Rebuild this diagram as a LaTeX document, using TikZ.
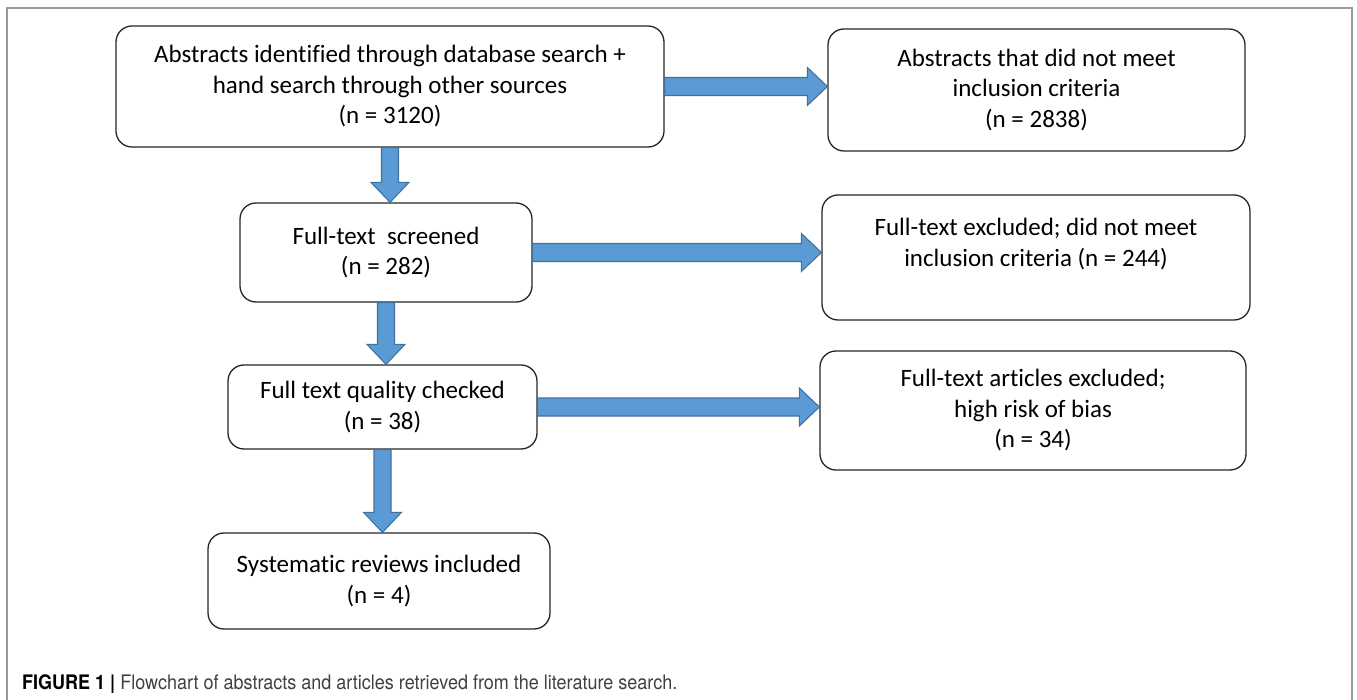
\documentclass[tikz,border=0pt]{standalone}
\usepackage{fontspec}
\setmainfont{Carlito}[Ligatures=NoCommon]
\newfontfamily\capfont{TeX Gyre Heros}[FakeStretch=0.9]
\usetikzlibrary{calc}

\definecolor{arrowblue}{HTML}{5B9BD5}
\definecolor{arrowedge}{HTML}{41719C}
\definecolor{framegray}{HTML}{9A9A9A}
\definecolor{captext}{HTML}{404040}

\tikzset{
  flowbox/.style={draw=black!85, line width=1.3pt, rounded corners=16pt,
    fill=white, align=center, inner sep=0pt, text=black,
    font=\fontsize{25}{30.5}\selectfont},
  fatarrow/.style={fill=arrowblue, draw=arrowedge, line width=1.1pt}
}

% block arrow to the right, from node #1 to node #2
\newcommand{\hblock}[2]{%
  \path (#1.east) coordinate (hs) (#1.east -| #2.west) coordinate (he);
  \draw[fatarrow] ($(hs)+(0,-9)$) -- ($(he)+(-20,-9)$) -- ($(he)+(-20,-19)$)
    -- (he) -- ($(he)+(-20,19)$) -- ($(he)+(-20,9)$) -- ($(hs)+(0,9)$) -- cycle;}
% block arrow downwards, from node #1 to node #2
\newcommand{\vblock}[2]{%
  \path (#1.south) coordinate (vs) (#1.south |- #2.north) coordinate (ve);
  \draw[fatarrow] ($(vs)+(-8.5,0)$) -- ($(ve)+(-8.5,-20)$) -- ($(ve)+(-19,-20)$)
    -- (ve) -- ($(ve)+(19,-20)$) -- ($(ve)+(8.5,-20)$) -- ($(vs)+(8.5,0)$) -- cycle;}

\begin{document}
\begin{tikzpicture}[x=1pt,y=-1pt]
  \useasboundingbox (0,0) rectangle (1357,700);
  \draw[framegray, line width=1.5pt] (7,8) rectangle (1352,710);

  \node[flowbox, minimum width=548pt, minimum height=121pt] (ident) at (390,86.5)
    {Abstracts identified through database search +\\hand search through other sources\\(n = 3120)};
  \node[flowbox, minimum width=417pt, minimum height=122pt] (exabs) at (1036.5,90)
    {Abstracts that did not meet\\inclusion criteria\\(n = 2838)};
  \node[flowbox, minimum width=292pt, minimum height=99pt] (screen) at (386,252.5)
    {Full-text\ \ screened\\(n = 282)};
  \node[flowbox, minimum width=428pt, minimum height=125pt] (exft) at (1036,257.5)
    {Full-text excluded; did not meet\\inclusion criteria (n = 244)\\\mbox{}};
  \node[flowbox, minimum width=309pt, minimum height=84pt] (quality) at (382.5,407)
    {Full text quality checked\\(n = 38)};
  \node[flowbox, minimum width=426pt, minimum height=119pt] (exbias) at (1033,410.5)
    {Full-text articles excluded;\\high risk of bias\\(n = 34)};
  \node[flowbox, minimum width=342pt, minimum height=96pt] (incl) at (379,581)
    {Systematic reviews included\\(n = 4)};

  \hblock{ident}{exabs}
  \hblock{screen}{exft}
  \hblock{quality}{exbias}
  \vblock{ident}{screen}
  \vblock{screen}{quality}
  \vblock{quality}{incl}

  \node[anchor=west, inner sep=0pt, text=captext,
    font=\capfont\fontsize{20}{24}\selectfont] (cap) at (22,684)
    {\textbf{\color{black}FIGURE 1 |} Flowchart of abstracts and articles retrieved from the literature search.};
\end{tikzpicture}
\end{document}
